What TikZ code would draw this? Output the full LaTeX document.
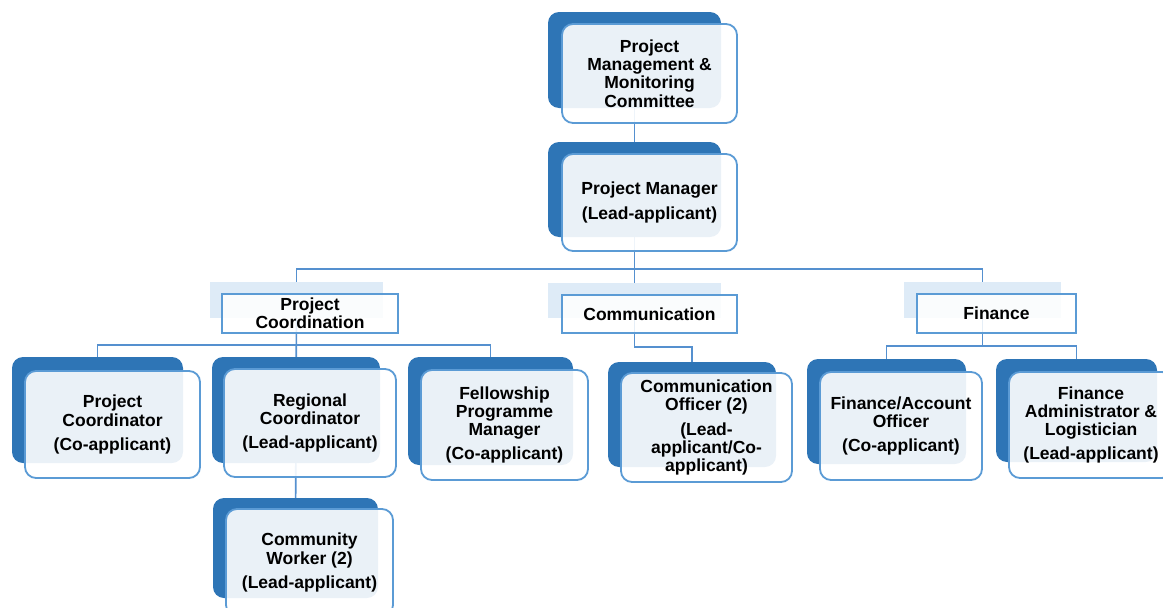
\documentclass[tikz,border=0pt]{standalone}
\usepackage{fontspec}
\setmainfont{Liberation Sans}
\definecolor{cardblue}{HTML}{2E75B6}
\definecolor{edgeblue}{HTML}{5B9BD5}
\definecolor{linkblue}{HTML}{5590CF}
\definecolor{paleblue}{HTML}{DEEBF7}
\pgfdeclarelayer{links}
\pgfsetlayers{links,main}
\begin{document}
\begin{tikzpicture}[x=1pt,y=-1pt,
  cardback/.style={fill=cardblue, rounded corners=11pt, inner sep=0pt, outer sep=0pt},
  cardfront/.style={draw=edgeblue, line width=1.8pt, fill=white, fill opacity=0.9,
    text opacity=1, rounded corners=11pt, inner sep=0pt, align=center,
    font=\bfseries\fontsize{17.5}{18.3}\selectfont},
  headback/.style={fill=paleblue, inner sep=0pt, outer sep=0pt},
  headfront/.style={draw=edgeblue, line width=1.8pt, fill=white, fill opacity=0.85,
    text opacity=1, inner sep=0pt, align=center,
    font=\bfseries\fontsize{17.5}{18.3}\selectfont},
  conn/.style={draw=linkblue, line width=1.6pt}]
\clip (0,0) rectangle (1163,608);

% bus levels
\coordinate (topbus) at (0,269);
\coordinate (pcbus) at (0,345);
\coordinate (commbus) at (0,347);
\coordinate (finbus) at (0,346);

% committee and manager
\node[cardback, minimum width=173pt, minimum height=96pt] (pmmcB) at (634.5,60) {};
\node[cardfront, minimum width=175pt, minimum height=99pt] (pmmc) at (649.5,73.5)
  {Project\\Management \&\\Monitoring\\Committee};
\node[cardback, minimum width=173pt, minimum height=95pt] (pmB) at (634.5,189.5) {};
\node[cardfront, minimum width=175pt, minimum height=97pt] (pm) at (649.5,202.5)
  {Project Manager\\[6pt](Lead-applicant)};

% section headers
\node[headback, minimum width=173pt, minimum height=36pt] (pcB) at (296.5,300) {};
\node[headfront, minimum width=176pt, minimum height=39pt] (pc) at (310,313.5)
  {Project\\Coordination};
\node[headback, minimum width=173pt, minimum height=35pt] (commB) at (634.5,300.5) {};
\node[headfront, minimum width=175pt, minimum height=38pt] (comm) at (649.5,314)
  {Communication};
\node[headback, minimum width=157pt, minimum height=36pt] (finB) at (982.5,300) {};
\node[headfront, minimum width=159pt, minimum height=39pt] (fin) at (996.5,313.5)
  {Finance};

% staff cards
\node[cardback, minimum width=171pt, minimum height=106pt] (pcoB) at (97.5,410) {};
\node[cardfront, minimum width=175pt, minimum height=107pt] (pco) at (112.5,424.5)
  {Project\\Coordinator\\[6pt](Co-applicant)};
\node[cardback, minimum width=168pt, minimum height=106pt] (rcB) at (296,410) {};
\node[cardfront, minimum width=172pt, minimum height=108pt] (rc) at (310,423)
  {Regional\\Coordinator\\[6pt](Lead-applicant)};
\node[cardback, minimum width=165pt, minimum height=108pt] (fpmB) at (490.5,411) {};
\node[cardfront, minimum width=167pt, minimum height=110pt] (fpm) at (504.5,425)
  {Fellowship\\Programme\\Manager\\[6pt](Co-applicant)};
\node[cardback, minimum width=168pt, minimum height=105pt] (coB) at (692,414.5) {};
\node[cardfront, minimum width=171pt, minimum height=109pt] (co) at (706.5,427.5)
  {Communication\\Officer (2)\\[6pt](Lead-\\applicant/Co-\\applicant)};
\node[cardback, minimum width=159pt, minimum height=105pt] (faoB) at (886.5,411.5) {};
\node[cardfront, minimum width=162pt, minimum height=108pt] (fao) at (901,426)
  {Finance/Account\\Officer\\[6pt](Co-applicant)};
\node[cardback, minimum width=161pt, minimum height=103pt] (faB) at (1076.5,410.5) {};
\node[cardfront, minimum width=164pt, minimum height=106pt] (fa) at (1091,425)
  {Finance\\Administrator \&\\Logistician\\[6pt](Lead-applicant)};
\node[cardback, minimum width=165pt, minimum height=100pt] (cwB) at (295.5,548) {};
\node[cardfront, minimum width=167pt, minimum height=107pt] (cw) at (309.5,562.5)
  {Community\\Worker (2)\\[6pt](Lead-applicant)};

% connectors, kept behind the boxes
\begin{pgfonlayer}{links}
\draw[conn] (pmmcB.center) -- (pmB.center);
\draw[conn] (pmB.center) -- (commB.center);
\draw[conn] (pcB.center) -- (pcB.center |- topbus) -- (finB.center |- topbus) -- (finB.center);
\draw[conn] (pcoB.center) -- (pcoB.center |- pcbus) -- (fpmB.center |- pcbus) -- (fpmB.center);
\draw[conn] (pcB.center) -- (rcB.center);
\draw[conn] (rcB.center) -- (cwB.center);
\draw[conn] (commB.center) |- (coB.center |- commbus) -- (coB.center);
\draw[conn] (faoB.center) -- (faoB.center |- finbus) -- (faB.center |- finbus) -- (faB.center);
\draw[conn] (finB.center) -- (finB.center |- finbus);
\end{pgfonlayer}
\end{tikzpicture}
\end{document}
